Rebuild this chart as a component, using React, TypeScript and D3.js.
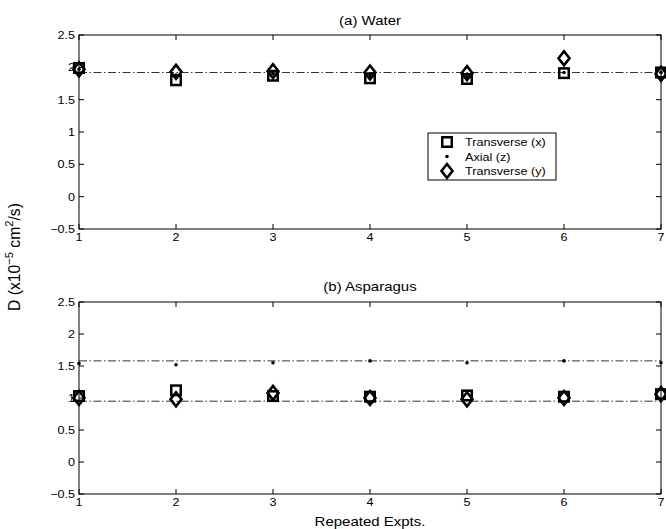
import React from "react";
import * as d3 from "d3";

const expts = [1, 2, 3, 4, 5, 6, 7];
const yTicks = [-0.5, 0, 0.5, 1, 1.5, 2, 2.5];

// (a) Water
const waterTransX = [1.99, 1.8, 1.87, 1.83, 1.82, 1.91, 1.92];
const waterAxialZ = [1.97, 1.88, 1.9, 1.87, 1.86, 1.92, 1.92];
const waterTransY = [1.97, 1.93, 1.94, 1.92, 1.91, 2.14, 1.9];
const waterRefLines = [1.92];

// (b) Asparagus
const aspTransX = [1.03, 1.12, 1.03, 1.02, 1.04, 1.02, 1.06];
const aspAxialZ = [1.54, 1.52, 1.55, 1.58, 1.55, 1.58, 1.55];
const aspTransY = [1.0, 0.98, 1.08, 1.0, 0.98, 1.0, 1.06];
const aspRefLines = [1.58, 0.95];

const legendLabels = ["Transverse (x)", "Axial (z)", "Transverse (y)"];

const FONT = "'Liberation Sans', Arial, Helvetica, sans-serif";
const SX = 1.2;

const x = d3.scaleLinear().domain([1, 7]).range([79, 661]);

function T({ x, y, size, anchor, children }: { x: number; y: number; size: number; anchor?: string; children: React.ReactNode }) {
  return (
    <text transform={`translate(${x},${y}) scale(${SX},1)`} textAnchor={anchor || "start"} fontFamily={FONT} fontSize={size} fill="#000">
      {children}
    </text>
  );
}

function Square({ cx, cy }: { cx: number; cy: number }) {
  const s = 9.5;
  return <rect x={cx - s / 2} y={cy - s / 2} width={s} height={s} fill="none" stroke="#000" strokeWidth={2.5} />;
}
function Diamond({ cx, cy }: { cx: number; cy: number }) {
  const w = 5.5, h = 7;
  const d = `M${cx},${cy - h}L${cx + w},${cy}L${cx},${cy + h}L${cx - w},${cy}Z`;
  return <path d={d} fill="none" stroke="#000" strokeWidth={2.6} strokeLinejoin="miter" />;
}
function Dot({ cx, cy }: { cx: number; cy: number }) {
  return <circle cx={cx} cy={cy} r={1.8} fill="#000" />;
}

function Panel({
  top, bottom, title, titleY, tx, ax, ty, refs, legend,
}: {
  top: number; bottom: number; title: string; titleY: number; tx: number[]; ax: number[]; ty: number[]; refs: number[]; legend?: boolean;
}) {
  const y = d3.scaleLinear().domain([-0.5, 2.5]).range([bottom, top]);
  const [x0, x1] = x.range();
  const tl = 5;
  return (
    <g>
      <T x={370} y={titleY} size={12.5} anchor="middle">{title}</T>
      {refs.map((r, i) => (
        <line key={i} x1={x0} x2={x1} y1={y(r)} y2={y(r)} stroke="#333" strokeWidth={1} strokeDasharray="8,2.5,1.5,2.5" />
      ))}
      <rect x={x0} y={top} width={x1 - x0} height={bottom - top} fill="none" stroke="#000" strokeWidth={1} />
      {expts.map((e) => (
        <g key={e}>
          <line x1={x(e)} x2={x(e)} y1={top} y2={top + tl} stroke="#000" />
          <line x1={x(e)} x2={x(e)} y1={bottom} y2={bottom - tl} stroke="#000" />
          <T x={x(e)} y={bottom + 12} size={10.5} anchor="middle">{e}</T>
        </g>
      ))}
      {yTicks.map((t) => (
        <g key={t}>
          <line x1={x0} x2={x0 + tl} y1={y(t)} y2={y(t)} stroke="#000" />
          <line x1={x1} x2={x1 - tl} y1={y(t)} y2={y(t)} stroke="#000" />
          <T x={x0 - 4} y={y(t) + 4} size={10.5} anchor="end">
            {t < 0 ? "\u2212" + Math.abs(t) : String(t)}
          </T>
        </g>
      ))}
      {expts.map((e, i) => <Square key={"s" + e} cx={x(e)} cy={y(tx[i])} />)}
      {expts.map((e, i) => <Diamond key={"d" + e} cx={x(e)} cy={y(ty[i])} />)}
      {expts.map((e, i) => <Dot key={"o" + e} cx={x(e)} cy={y(ax[i])} />)}
      {legend && (
        <g>
          <rect x={428} y={133} width={128} height={47} fill="#fff" stroke="#000" strokeWidth={1} />
          <Square cx={447} cy={142} />
          <Dot cx={447} cy={156.5} />
          <Diamond cx={447} cy={171} />
          {legendLabels.map((l, i) => (
            <T key={l} x={465} y={146 + i * 14.5} size={10.5}>{l}</T>
          ))}
        </g>
      )}
    </g>
  );
}

export default function App() {
  return (
    <svg width={666} height={529} style={{ position: "absolute", left: 0, top: 0, background: "#fff" }}>
      <rect width={666} height={529} fill="#fff" />
      <Panel top={35} bottom={229} title="(a) Water" titleY={25} tx={waterTransX} ax={waterAxialZ} ty={waterTransY} refs={waterRefLines} legend />
      <Panel top={302} bottom={494} title="(b) Asparagus" titleY={291} tx={aspTransX} ax={aspAxialZ} ty={aspTransY} refs={aspRefLines} />
      <text transform="translate(20,257) rotate(-90) scale(1.12,1.15)" textAnchor="middle" fontFamily={FONT} fontSize={14}>
        D (x10<tspan dy={-6} fontSize={10}>−5</tspan><tspan dy={6}> cm</tspan><tspan dy={-6} fontSize={10}>2</tspan><tspan dy={6}>/s)</tspan>
      </text>
      <T x={370} y={526} size={12.5} anchor="middle">Repeated Expts.</T>
    </svg>
  );
}
